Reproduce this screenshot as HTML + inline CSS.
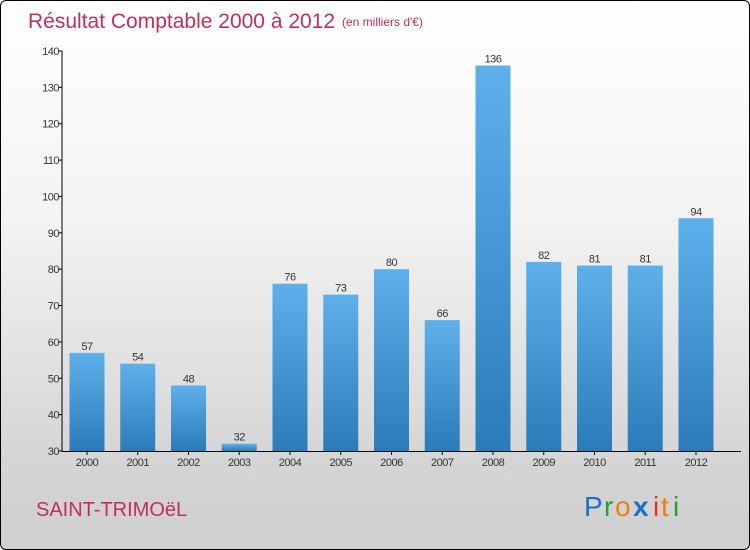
<!DOCTYPE html>
<html><head><meta charset="utf-8"><style>
body{margin:0;width:750px;height:550px;overflow:hidden;}
#wrap{position:absolute;left:0;top:0;width:748px;height:548px;border:1px solid #000;border-radius:6px;background:linear-gradient(#ffffff 0%,#f3f3f3 40%,#d4d4d4 85%,#cfcfcf 100%);overflow:hidden;font-family:"Liberation Sans",sans-serif;}
</style></head><body>
<div id="wrap">
<svg width="750" height="550" style="position:absolute;left:0;top:0">
<defs><linearGradient id="bg" x1="0" y1="0" x2="0" y2="1"><stop offset="0" stop-color="#5eb0ea"/><stop offset="1" stop-color="#2c7bb9"/></linearGradient></defs>
<text x="27" y="27" font-size="21" fill="#c0305a">Résultat Comptable 2000 à 2012</text>
<text x="341" y="25" font-size="12" fill="#c0305a">(en milliers d'€)</text>
<g id="axes"></g><g id="bars"></g>
<text x="35" y="515" font-size="20" fill="#c0305a">SAINT-TRIMOëL</text>
<g font-size="28" font-family="'Liberation Sans',sans-serif">
<text x="583" y="515" fill="#1a70c8">P</text><text x="603" y="515" fill="#2a9a3a">r</text><text x="614" y="515" fill="#f07d10">o</text><text x="632" y="515" fill="#1a70c8" font-weight="bold">x</text><text x="652" y="515" fill="#e03020">i</text><text x="660" y="515" fill="#f07d10">t</text><text x="672" y="515" fill="#2a9a3a">i</text>
</g>
</svg>
</div>
<script>
const years=["2000","2001","2002","2003","2004","2005","2006","2007","2008","2009","2010","2011","2012"];
const values=[57,54,48,32,76,73,80,66,136,82,81,81,94];
const ticks=[30,40,50,60,70,80,90,100,110,120,130,140];
const NS="http://www.w3.org/2000/svg";
const y=v=>450-(v-30)*400/110;
const x=i=>86+i*50.75;
function mk(t,a,p){const e=document.createElementNS(NS,t);for(const k in a)e.setAttribute(k,a[k]);p.appendChild(e);return e;}
const ax=document.getElementById('axes'),bg=document.getElementById('bars');
const yl=mk('line',{x1:61,y1:50,x2:61,y2:450,stroke:'#000'},ax);


const xl=mk('line',{x1:61,y1:450.5,x2:740,y2:450.5,stroke:'#000'},ax);


ticks.forEach(t=>{
 mk('line',{x1:58,y1:y(t),x2:61,y2:y(t),stroke:'#000'},ax);
 const tx=mk('text',{x:58,y:y(t)+4,'text-anchor':'end','font-size':11,fill:'#333','letter-spacing':'-0.5'},ax);
 tx.textContent=t;
 
 
});
years.forEach((yr,i)=>{
 const cx=x(i);
 const r=mk('rect',{x:cx-17.5,y:y(values[i]),width:35,height:450-y(values[i]),fill:'url(#bg)'},bg);
 
 
 const v=mk('text',{x:cx,y:y(values[i])-3,'text-anchor':'middle','font-size':11,fill:'#333','letter-spacing':'-0.5'},bg);
 v.textContent=values[i];
 
 
 mk('line',{x1:cx,y1:450,x2:cx,y2:454,stroke:'#000'},ax);
 const l=mk('text',{x:cx,y:465,'text-anchor':'middle','font-size':11,fill:'#333','letter-spacing':'-0.5'},ax);
 l.textContent=yr;
 
 
});
</script>
</body></html>
